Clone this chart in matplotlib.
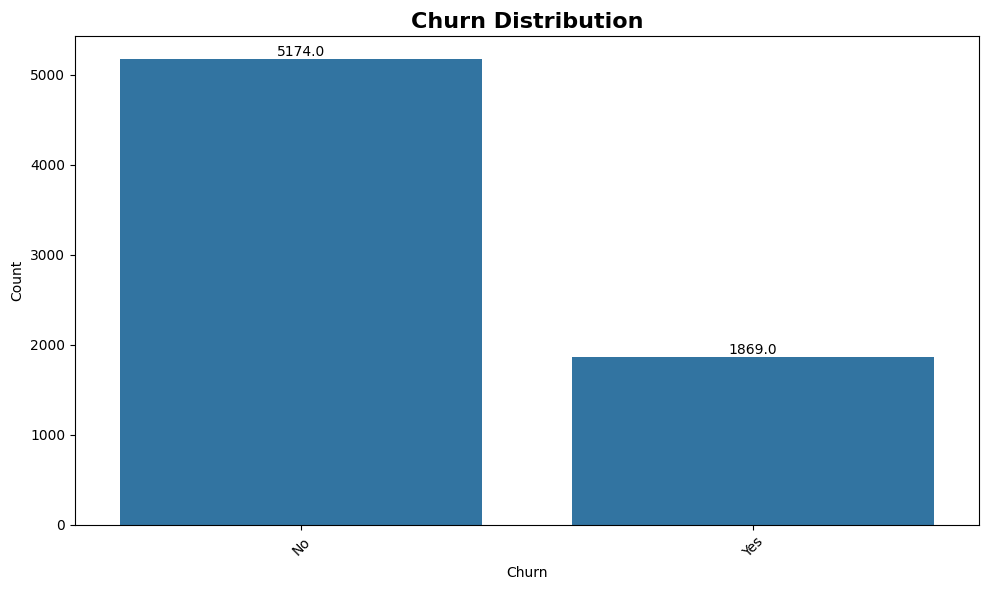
import matplotlib
matplotlib.use("Agg")
import matplotlib.pyplot as plt

categories = ["No", "Yes"]
counts = [5174, 1869]
bar_color = "#3274a1"

fig, ax = plt.subplots(figsize=(9.89, 5.9), dpi=100)
bars = ax.bar(categories, counts, color=bar_color, width=0.8)
ax.set_xlim(-0.5, 1.5)
for b, v in zip(bars, counts):
    ax.text(b.get_x() + b.get_width() / 2, v, f"{float(v)}", ha="center", va="bottom", fontsize=10)
ax.set_title("Churn Distribution", fontsize=16, fontweight="bold")
ax.set_xlabel("Churn")
ax.set_ylabel("Count")
plt.setp(ax.get_xticklabels(), rotation=45)
fig.subplots_adjust(left=75/989, right=979/989, top=1-36/590, bottom=1-525/590)
fig.savefig("out.png", dpi=100)
